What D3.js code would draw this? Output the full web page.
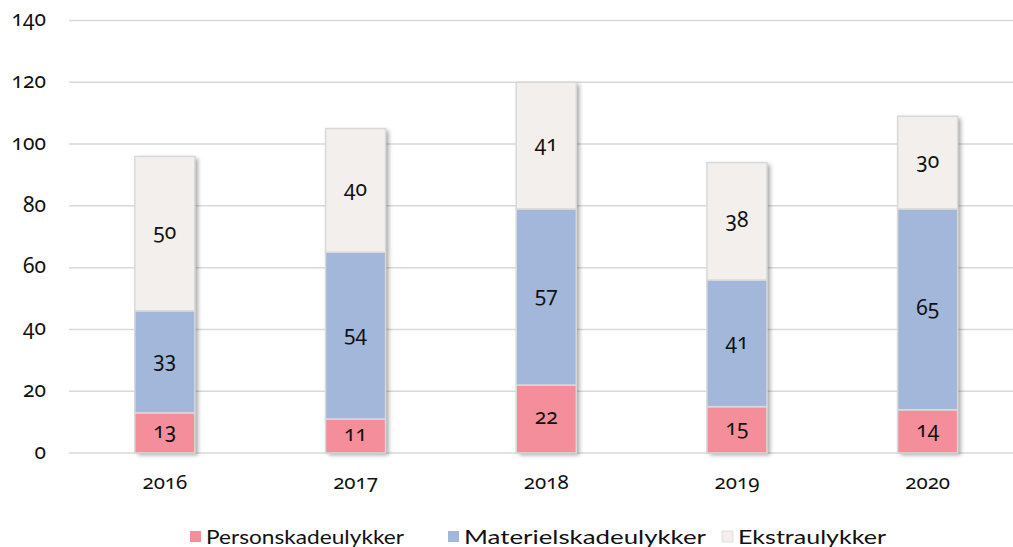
<!DOCTYPE html>
<html><head><meta charset="utf-8">
<script src="https://cdn.jsdelivr.net/npm/d3@7"></script>
<style>
html,body{margin:0;padding:0;background:#fff;}
svg{display:block;}
.num{font-family:"Noto Sans",Lato,sans-serif;font-variant-numeric:oldstyle-nums;font-feature-settings:"onum" 1;}
</style></head>
<body>
<svg id="chart" width="1013" height="547"></svg>
<script>
const years = ["2016","2017","2018","2019","2020"];
const seriesNames = ["Personskadeulykker","Materielskadeulykker","Ekstraulykker"];
const person = [13,11,22,15,14];
const materiel = [33,54,57,41,65];
const ekstra = [50,40,41,38,30];
const yTicks = [0,20,40,60,80,100,120,140];
const colors = ["#F48E9B","#A2B7D9","#F2EFEC"];

const svg = d3.select("#chart");
const defs = svg.append("defs");
const f = defs.append("filter").attr("id","sh").attr("x","-20%").attr("y","-10%").attr("width","150%").attr("height","130%");
f.append("feDropShadow").attr("dx",3).attr("dy",2).attr("stdDeviation",2.2).attr("flood-color","#000").attr("flood-opacity",0.35);

const x = d3.scaleBand().domain(years).range([69.5,1023]).paddingInner(0.685).paddingOuter(0.3425);
const y = d3.scaleLinear().domain([0,140]).range([453,20.5]);

svg.append("g").selectAll("line").data(yTicks).join("line")
  .attr("x1",69).attr("x2",1013).attr("y1",d=>y(d)).attr("y2",d=>y(d))
  .attr("stroke","#d9d9d9").attr("stroke-width",1.5);

const yAxis = d3.axisLeft(y).tickValues(yTicks).tickSize(0).tickPadding(0);
const gy = svg.append("g").attr("transform","translate(46,0)").call(yAxis);
gy.select(".domain").remove();
gy.selectAll("text").attr("class","num").attr("font-size",21).attr("fill","#111").attr("dy","0.25em");

const xAxis = d3.axisBottom(x).tickSize(0).tickPadding(0);
const gx = svg.append("g").attr("transform","translate(0,474)").call(xAxis);
gx.select(".domain").remove();
gx.selectAll("text").attr("class","num").attr("font-size",20.5).attr("fill","#111").attr("dy","0.71em");

const rows = years.map((yr,i)=>({year:yr, Personskadeulykker:person[i], Materielskadeulykker:materiel[i], Ekstraulykker:ekstra[i]}));
const stacked = d3.stack().keys(seriesNames)(rows);

const barsG = svg.append("g");
barsG.append("g").attr("filter","url(#sh)").selectAll("rect").data(rows).join("rect")
  .attr("x",d=>x(d.year)).attr("width",x.bandwidth())
  .attr("y",(d,i)=>y(person[i]+materiel[i]+ekstra[i]))
  .attr("height",(d,i)=>y(0)-y(person[i]+materiel[i]+ekstra[i]))
  .attr("fill","#ccc");

stacked.forEach((s,si)=>{
  const g = barsG.append("g");
  g.selectAll("rect").data(s).join("rect")
    .attr("x",d=>x(d.data.year)).attr("width",x.bandwidth())
    .attr("y",d=>y(d[1])).attr("height",d=>y(d[0])-y(d[1]))
    .attr("fill",colors[si]).attr("stroke","#d9d9d9").attr("stroke-width",1.5);
  g.selectAll("text").data(s).join("text")
    .attr("class","num")
    .attr("x",d=>x(d.data.year)+x.bandwidth()/2)
    .attr("y",d=>(y(d[0])+y(d[1]))/2)
    .attr("dy","0.25em").attr("text-anchor","middle")
    .attr("font-size",21).attr("fill","#111")
    .text(d=>d[1]-d[0]);
});

const legX = [190,448,722];
const legW = [198,242,148];
const lg = svg.append("g");
seriesNames.forEach((n,i)=>{
  lg.append("rect").attr("x",legX[i]).attr("y",531).attr("width",11).attr("height",11)
    .attr("fill",colors[i]).attr("stroke", i===2?"#d9d9d9":"none").attr("stroke-width",0.8);
  lg.append("text").attr("x",legX[i]+16).attr("y",544)
    .attr("font-family","Lato,'Open Sans',sans-serif").attr("font-size",20).attr("fill","#111")
    .attr("textLength",legW[i]).attr("lengthAdjust","spacingAndGlyphs")
    .text(n);
});
</script>
</body></html>
